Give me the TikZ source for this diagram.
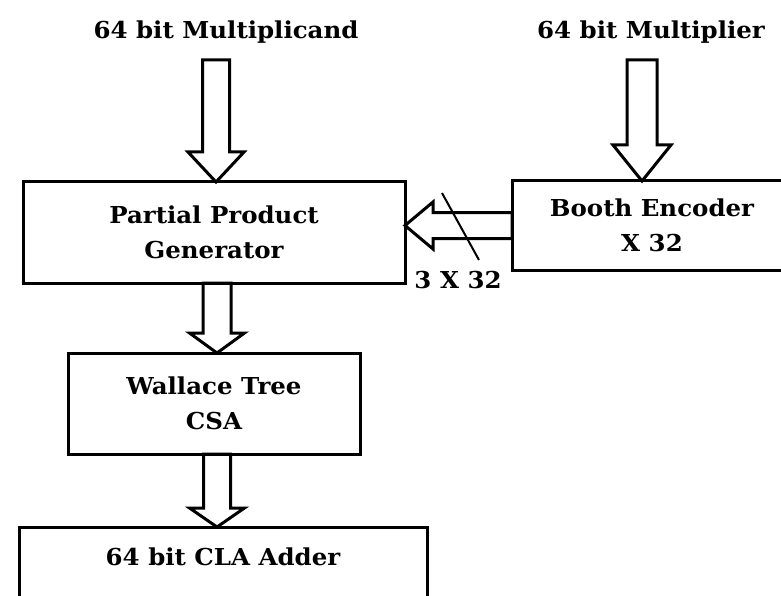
\documentclass[tikz,border=0pt]{standalone}
\usepackage{graphicx}
\usepackage{fontspec}
\setmainfont{DejaVu Serif}
\usetikzlibrary{calc}
\newcommand{\sx}[1]{\scalebox{1.05}[1]{#1}}
% start, tip, half shaft, half head, head length
\newcommand{\blockarrow}[5]{%
  \coordinate (H) at ($(#2)!#5!(#1)$);
  \draw[barrow] ($(#1)!#3!90:(#2)$) -- ($(H)!#3!90:(#2)$) -- ($(H)!#4!90:(#2)$)
    -- (#2) -- ($(H)!#4!-90:(#2)$) -- ($(H)!#3!-90:(#2)$) -- ($(#1)!#3!-90:(#2)$) -- cycle;
}
\begin{document}
\begin{tikzpicture}[x=1pt,y=-1pt,
  lbl/.style={font=\fontsize{23.3}{35}\selectfont\bfseries, align=center, inner sep=0pt},
  blk/.style={draw, line width=3pt, outer sep=0pt, lbl},
  barrow/.style={draw, line width=3pt, line join=miter},
  busmark/.style={draw, line width=2pt}]
\useasboundingbox (0,0) rectangle (781,596);
\fill[white] (0,0) rectangle (781,596);

\node[lbl] (mcand) at (226,32) {\sx{64 bit Multiplicand}};
\node[lbl] (mplier) at (651,32) {\sx{64 bit Multiplier}};

\node[blk, minimum width=382pt, minimum height=101pt] (pp) at (214,232.5) {\sx{Partial Product}\\\sx{Generator}};
\node[blk, minimum width=280pt, minimum height=89pt] (booth) at (652,225.5) {\sx{Booth Encoder}\\\sx{X 32}};
\node[blk, minimum width=292pt, minimum height=101pt] (wal) at (214,403.5) {\sx{Wallace Tree}\\\sx{CSA}};
\node[blk, anchor=north, minimum width=408pt, inner ysep=20pt, text height=18.5pt, text depth=70pt] (cla) at (223,527) {\sx{64 bit CLA Adder}};

\coordinate (a1s) at (216,60);
\coordinate (a1e) at (a1s |- pp.north);
\coordinate (a2s) at (642,60);
\coordinate (a2e) at (a2s |- booth.north);
\coordinate (a3s) at ([xshift=3pt]pp.south);
\coordinate (a3e) at (a3s |- wal.north);
\coordinate (a4s) at ([xshift=3pt]wal.south);
\coordinate (a4e) at (a4s |- cla.north);
\coordinate (a5e) at (pp.east |- booth.west);

\blockarrow{a1s}{a1e}{13.5pt}{28pt}{30pt}
\blockarrow{a2s}{a2e}{15pt}{29pt}{36pt}
\blockarrow{a3s}{a3e}{14pt}{27.5pt}{20pt}
\blockarrow{a4s}{a4e}{13.5pt}{27.5pt}{19pt}
\blockarrow{booth.west}{a5e}{13pt}{23.5pt}{28pt}

\coordinate (s1) at (442,193);
\coordinate (s2) at (479,260);
\draw[busmark] (s1) -- (s2);
\node[lbl] (bus) at (458,280) {\sx{3 X 32}};
\end{tikzpicture}
\end{document}
